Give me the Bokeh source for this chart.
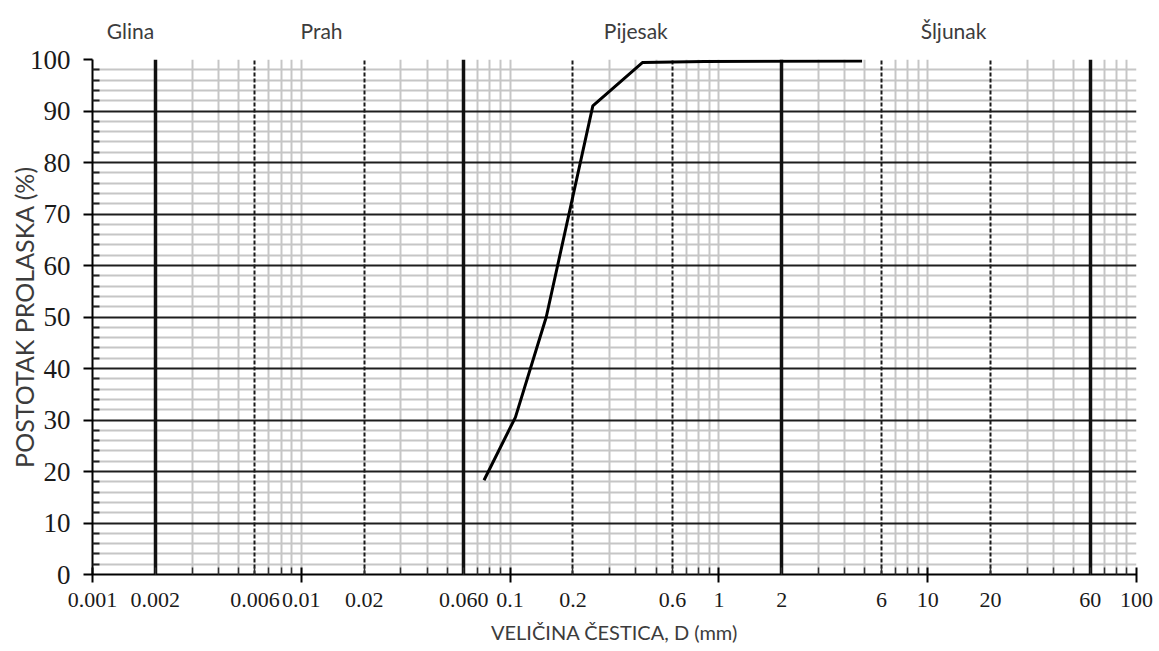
from bokeh.plotting import figure
from bokeh.models import Range1d, FixedTicker, Grid, LogAxis
from bokeh.embed import file_html
from bokeh.resources import INLINE

# ---------------- data ----------------
grain_size_mm = [0.075, 0.106, 0.149, 0.249, 0.43, 0.85, 4.85]
passing_pct = [18.3, 30.5, 50.0, 91.0, 99.4, 99.6, 99.7]

decade_ticks = [0.001, 0.01, 0.1, 1, 10, 100]
decade_labels = ["0.001", "0.01", "0.1", "1", "10", "100"]
extra_ticks = [0.002, 0.006, 0.02, 0.06, 0.2, 0.6, 2, 6, 20, 60]
extra_labels = ["0.002", "0.006", "0.02", "0.060", "0.2", "0.6", "2", "6", "20", "60"]
boundary_sizes = [0.002, 0.06, 2, 60]
subdivision_sizes = [0.006, 0.02, 0.2, 0.6, 6, 20]
y_major = list(range(0, 101, 10))
y_minor = [v for v in range(0, 101, 2) if v % 10]
zone_names = ["Glina", "Prah", "Pijesak", "Šljunak"]

# ---------------- layout helpers ----------------
zone_x = [0.00152, 0.0125, 0.40, 13.3]

all_sub = sorted({round(d * k, 6) for d in decade_ticks[:-1] for k in range(1, 10)} | {100.0})
special = {round(v, 6) for v in boundary_sizes + subdivision_sizes} | {0.001}
gray_x = [v for v in all_sub if v not in special]
x_minor_ticks = [round(d * k, 6) for d in decade_ticks[:-1] for k in range(2, 10)]

label_ticks = decade_ticks + extra_ticks
label_texts = decade_labels + extra_labels

SERIF = "Liberation Serif"
SANS = "Lato"
TXT = "#1a1a1a"
GREYTXT = "#3c3c3c"

p = figure(width=1156, height=651, x_axis_type="log",
           x_range=Range1d(0.001, 100), y_range=Range1d(0, 100),
           output_backend="svg", toolbar_location=None,
           min_border_left=92, min_border_right=20,
           min_border_top=59, min_border_bottom=77)
p.outline_line_color = None
p.background_fill_color = "white"
p.border_fill_color = "white"
p.xgrid.grid_line_color = None
p.ygrid.grid_line_color = None

# grids
p.add_layout(Grid(dimension=0, ticker=FixedTicker(ticks=gray_x),
                  grid_line_color="#c6c6c6", grid_line_width=2))
p.add_layout(Grid(dimension=1, ticker=FixedTicker(ticks=y_minor),
                  grid_line_color="#c6c6c6", grid_line_width=2))
p.add_layout(Grid(dimension=1, ticker=FixedTicker(ticks=y_major),
                  grid_line_color="#1e1e1e", grid_line_width=2))
p.add_layout(Grid(dimension=0, ticker=FixedTicker(ticks=subdivision_sizes),
                  grid_line_color="#1a1a1a", grid_line_width=2,
                  grid_line_dash="4 2"))
p.add_layout(Grid(dimension=0, ticker=FixedTicker(ticks=boundary_sizes),
                  grid_line_color="#111111", grid_line_width=3.5))

# curve
p.line(grain_size_mm, passing_pct, line_color="black", line_width=3)

# x axis (ticks only, labels hidden)
xa = p.xaxis[0]
xa.ticker = FixedTicker(ticks=decade_ticks, minor_ticks=x_minor_ticks)
xa.axis_line_color = "black"
xa.axis_line_width = 2
xa.major_tick_in = 7
xa.major_tick_out = 8
xa.major_tick_line_width = 2
xa.minor_tick_in = 7
xa.minor_tick_out = 0
xa.minor_tick_line_width = 1.5
xa.minor_tick_line_color = "#333333"
xa.major_label_standoff = 0
xa.major_label_text_font_size = "1px"
xa.major_label_text_alpha = 0.0

# x axis (tick labels and title)
xl = LogAxis(ticker=FixedTicker(ticks=label_ticks, minor_ticks=[]))
xl.major_label_overrides = {t: l for t, l in zip(label_ticks, label_texts)}
xl.axis_line_alpha = 0.0
xl.major_tick_line_alpha = 0.0
xl.minor_tick_line_alpha = 0.0
xl.major_tick_in = 0
xl.major_tick_out = 0
xl.minor_tick_in = 0
xl.minor_tick_out = 0
xl.major_label_standoff = 10
xl.major_label_text_font = SERIF
xl.major_label_text_font_size = "22px"
xl.major_label_text_color = TXT
xl.axis_label = "VELIČINA ČESTICA, D (mm)"
xl.axis_label_text_font = SANS
xl.axis_label_text_font_size = "20px"
xl.axis_label_text_font_style = "normal"
xl.axis_label_text_color = GREYTXT
xl.axis_label_standoff = 10
p.add_layout(xl, "below")

# zone names above the chart
za = LogAxis(ticker=FixedTicker(ticks=zone_x, minor_ticks=[]))
za.major_label_overrides = {t: n for t, n in zip(zone_x, zone_names)}
za.axis_line_alpha = 0.0
za.major_tick_line_alpha = 0.0
za.minor_tick_line_alpha = 0.0
za.major_tick_in = 0
za.major_tick_out = 0
za.minor_tick_in = 0
za.minor_tick_out = 0
za.major_label_standoff = 17
za.major_label_text_font = SANS
za.major_label_text_font_size = "21px"
za.major_label_text_color = GREYTXT
p.add_layout(za, "above")

# y axis
ya = p.yaxis[0]
ya.ticker = FixedTicker(ticks=y_major, minor_ticks=y_minor)
ya.axis_line_color = "black"
ya.axis_line_width = 2
ya.major_tick_in = 0
ya.major_tick_out = 9
ya.major_tick_line_width = 2
ya.minor_tick_in = 7
ya.minor_tick_out = 0
ya.minor_tick_line_width = 2
ya.minor_tick_line_color = "#222222"
ya.major_label_standoff = 13
ya.major_label_text_font = SERIF
ya.major_label_text_font_size = "27px"
ya.major_label_text_color = TXT
ya.axis_label = "POSTOTAK PROLASKA (%)"
ya.axis_label_text_font = SANS
ya.axis_label_text_font_size = "25px"
ya.axis_label_text_font_style = "normal"
ya.axis_label_text_color = GREYTXT
ya.axis_label_standoff = -12

open("out.html", "w").write(file_html(p, INLINE))
